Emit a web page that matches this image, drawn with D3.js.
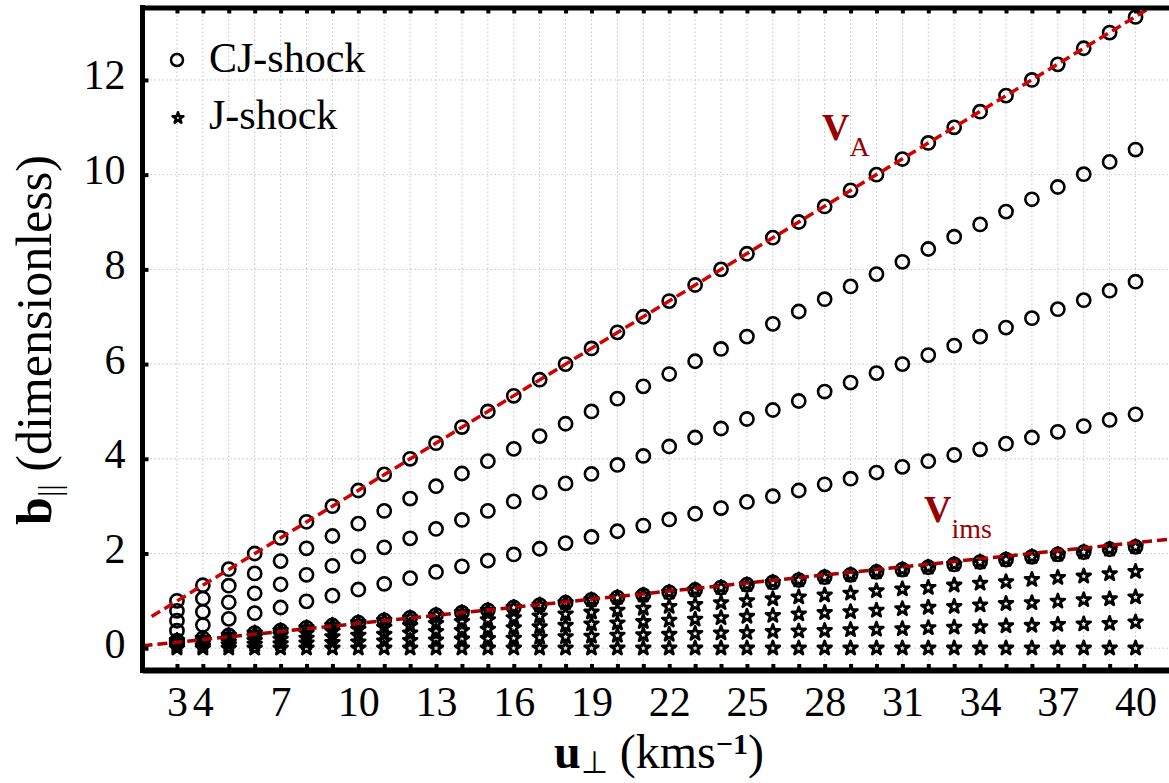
<!DOCTYPE html>
<html>
<head>
<meta charset="utf-8">
<script src="https://cdn.jsdelivr.net/npm/d3@7"></script>
<style>
  body { margin: 0; background: #fff; }
  svg { display: block; font-family: "Palatino Linotype", "Book Antiqua", Palatino, "Liberation Serif", serif; }
</style>
</head>
<body>
<div id="chart"></div>
<script>
// perpendicular velocity, km/s
const uPerp = [3, 4, 5, 6, 7, 8, 9, 10, 11, 12, 13, 14, 15, 16, 17, 18, 19, 20, 21, 22,
  23, 24, 25, 26, 27, 28, 29, 30, 31, 32, 33, 34, 35, 36, 37, 38, 39, 40];
const xTickLabels = [3, 4, 7, 10, 13, 16, 19, 22, 25, 28, 31, 34, 37, 40];
const yTicks = [0, 2, 4, 6, 8, 10, 12];

// CJ-shock rows (top row sits on V_A, bottom row on V_ims)
const cjRow1 = [1.00, 1.33, 1.67, 2.00, 2.33, 2.67, 3.00, 3.33, 3.67, 4.00, 4.33, 4.67, 5.00, 5.33, 5.67, 6.00, 6.33, 6.67, 7.00,
  7.33, 7.67, 8.00, 8.33, 8.67, 9.00, 9.33, 9.67, 10.00, 10.33, 10.67, 11.00, 11.33, 11.67, 12.00, 12.33, 12.67, 13.00, 13.33];
const cjRow2 = [0.79, 1.05, 1.32, 1.58, 1.84, 2.11, 2.37, 2.63, 2.90, 3.16, 3.42, 3.69, 3.95, 4.21, 4.48, 4.74, 5.00, 5.27, 5.53,
  5.79, 6.06, 6.32, 6.58, 6.85, 7.11, 7.37, 7.64, 7.90, 8.16, 8.43, 8.69, 8.95, 9.22, 9.48, 9.74, 10.01, 10.27, 10.53];
const cjRow3 = [0.58, 0.77, 0.97, 1.16, 1.35, 1.55, 1.74, 1.94, 2.13, 2.32, 2.52, 2.71, 2.90, 3.10, 3.29, 3.48, 3.68, 3.87, 4.06,
  4.26, 4.45, 4.64, 4.84, 5.03, 5.22, 5.42, 5.61, 5.81, 6.00, 6.19, 6.39, 6.58, 6.77, 6.97, 7.16, 7.35, 7.55, 7.74];
const cjRow4 = [0.37, 0.49, 0.62, 0.74, 0.86, 0.99, 1.11, 1.24, 1.36, 1.48, 1.61, 1.73, 1.85, 1.98, 2.10, 2.22, 2.35, 2.47, 2.59,
  2.72, 2.84, 2.96, 3.09, 3.21, 3.33, 3.46, 3.58, 3.71, 3.83, 3.95, 4.08, 4.20, 4.32, 4.45, 4.57, 4.69, 4.82, 4.94];
const cjRow5 = [0.16, 0.21, 0.27, 0.32, 0.37, 0.43, 0.48, 0.54, 0.59, 0.64, 0.70, 0.75, 0.80, 0.86, 0.91, 0.96, 1.02, 1.07, 1.12,
  1.18, 1.23, 1.28, 1.34, 1.39, 1.44, 1.50, 1.55, 1.61, 1.66, 1.71, 1.77, 1.82, 1.87, 1.93, 1.98, 2.03, 2.09, 2.14];

// J-shock rows
const jRow1 = [0.16, 0.21, 0.27, 0.32, 0.37, 0.43, 0.48, 0.54, 0.59, 0.64, 0.70, 0.75, 0.80, 0.86, 0.91, 0.96, 1.02, 1.07, 1.12,
  1.18, 1.23, 1.28, 1.34, 1.39, 1.44, 1.50, 1.55, 1.61, 1.66, 1.71, 1.77, 1.82, 1.87, 1.93, 1.98, 2.03, 2.09, 2.14];
const jRow2 = [0.12, 0.16, 0.20, 0.24, 0.28, 0.32, 0.36, 0.40, 0.44, 0.48, 0.52, 0.56, 0.60, 0.64, 0.68, 0.72, 0.76, 0.80, 0.84,
  0.88, 0.92, 0.96, 1.00, 1.04, 1.08, 1.12, 1.16, 1.21, 1.25, 1.28, 1.33, 1.37, 1.40, 1.45, 1.49, 1.52, 1.57, 1.62];
const jRow3 = [0.08, 0.11, 0.13, 0.16, 0.19, 0.21, 0.24, 0.27, 0.29, 0.32, 0.35, 0.37, 0.40, 0.43, 0.45, 0.48, 0.51, 0.53, 0.56,
  0.59, 0.61, 0.64, 0.67, 0.69, 0.72, 0.75, 0.77, 0.80, 0.83, 0.86, 0.88, 0.91, 0.94, 0.96, 0.99, 1.02, 1.04, 1.08];
const jRow4 = [0.04, 0.05, 0.07, 0.08, 0.09, 0.11, 0.12, 0.13, 0.15, 0.16, 0.17, 0.19, 0.20, 0.21, 0.23, 0.24, 0.25, 0.27, 0.28,
  0.29, 0.31, 0.32, 0.33, 0.35, 0.36, 0.37, 0.39, 0.40, 0.41, 0.43, 0.44, 0.45, 0.47, 0.48, 0.50, 0.51, 0.52, 0.55];
const jRow5 = [0.00, 0.00, 0.00, 0.00, 0.00, 0.00, 0.00, 0.00, 0.00, 0.00, 0.00, 0.00, 0.00, 0.00, 0.00, 0.00, 0.00, 0.00, 0.00,
  0.00, 0.00, 0.00, 0.00, 0.00, 0.00, 0.00, 0.00, 0.00, 0.00, 0.00, 0.00, 0.00, 0.00, 0.00, 0.00, 0.00, 0.00, 0.00];

// reference speeds, [u, b] end points
const vALine = [[2.02, 0.67], [41.0, 13.67]];
const vImsLine = [[1.67, 0.05], [41.6, 2.32]];

const cjRows = [cjRow1, cjRow2, cjRow3, cjRow4, cjRow5];
const jRows = [jRow1, jRow2, jRow3, jRow4, jRow5];

const width = 1169, height = 783;
const plot = { left: 142.5, right: 1177, top: 7.5, bottom: 670 };

const x = d3.scaleLinear().domain([1.67, 41.6]).range([plot.left, plot.right]);
const y = d3.scaleLinear().domain([-0.46, 13.53]).range([plot.bottom, plot.top]);

const svg = d3.select('#chart').append('svg')
  .attr('width', width)
  .attr('height', height);

svg.append('clipPath').attr('id', 'clip')
  .append('rect')
  .attr('x', plot.left).attr('y', plot.top)
  .attr('width', plot.right - plot.left).attr('height', plot.bottom - plot.top);

// grid
const grid = svg.append('g').attr('class', 'grid')
  .attr('stroke', '#c4c4c4').attr('stroke-width', 1).attr('stroke-dasharray', '1.5,2.5');
grid.selectAll('line.v').data(uPerp).enter().append('line')
  .attr('class', 'v')
  .attr('x1', d => x(d)).attr('x2', d => x(d))
  .attr('y1', plot.top).attr('y2', plot.bottom);
grid.selectAll('line.h').data(yTicks).enter().append('line')
  .attr('class', 'h')
  .attr('x1', plot.left).attr('x2', plot.right)
  .attr('y1', d => y(d)).attr('y2', d => y(d));

// markers
const star = d3.symbol().type(d3.symbolStar).size(58);
const marks = svg.append('g').attr('clip-path', 'url(#clip)');

cjRows.forEach(row => {
  marks.append('g').selectAll('circle')
    .data(row.map((b, i) => [uPerp[i], b]))
    .enter().append('circle')
    .attr('cx', d => x(d[0]))
    .attr('cy', d => y(d[1]))
    .attr('r', 6.6)
    .attr('fill', 'none')
    .attr('stroke', '#000')
    .attr('stroke-width', 2.6);
});

jRows.forEach(row => {
  marks.append('g').selectAll('path')
    .data(row.map((b, i) => [uPerp[i], b]))
    .enter().append('path')
    .attr('d', star)
    .attr('transform', d => 'translate(' + x(d[0]) + ',' + y(d[1]) + ')')
    .attr('fill', 'none')
    .attr('stroke', '#000')
    .attr('stroke-width', 2.8)
    .attr('stroke-linejoin', 'round');
});

// dashed reference lines
const line = d3.line().x(d => x(d[0])).y(d => y(d[1]));
marks.append('path').datum(vALine)
  .attr('d', line)
  .attr('fill', 'none')
  .attr('stroke', '#d40000')
  .attr('stroke-width', 3.5)
  .attr('stroke-dasharray', '10,5');
marks.append('path').datum(vImsLine)
  .attr('d', line)
  .attr('fill', 'none')
  .attr('stroke', '#a80000')
  .attr('stroke-width', 3.5)
  .attr('stroke-dasharray', '10,5');

// axes
const xAxis = d3.axisBottom(x)
  .tickValues(uPerp)
  .tickSizeInner(-6).tickSizeOuter(0)
  .tickFormat(d => xTickLabels.indexOf(d) >= 0 ? d : '');
const gx = svg.append('g').attr('transform', 'translate(0,' + plot.bottom + ')').call(xAxis);
gx.attr('font-family', null);
gx.select('.domain').attr('stroke-width', 6);
gx.selectAll('.tick line').attr('stroke-width', 4);
gx.selectAll('.tick text')
  .attr('y', 46).attr('dy', 0)
  .attr('font-size', 42).attr('fill', '#000');

const xTop = d3.axisTop(x).tickValues(uPerp).tickSizeInner(-6).tickSizeOuter(0).tickFormat('');
const gt = svg.append('g').attr('transform', 'translate(0,' + plot.top + ')').call(xTop);
gt.select('.domain').attr('stroke-width', 5);
gt.selectAll('.tick line').attr('stroke-width', 4);

const yAxis = d3.axisLeft(y).tickValues(yTicks).tickSizeInner(-6).tickSizeOuter(0);
const gy = svg.append('g').attr('transform', 'translate(' + plot.left + ',0)').call(yAxis);
gy.attr('font-family', null);
gy.select('.domain').attr('stroke-width', 5).attr('d', 'M0,' + (plot.top - 2.5) + 'V' + (plot.bottom + 3));
gy.selectAll('.tick line').attr('stroke-width', 4);
gy.selectAll('.tick text')
  .attr('x', -17).attr('dy', 0).attr('y', 9)
  .attr('font-size', 42).attr('fill', '#000');

// axis titles
svg.append('text')
  .attr('x', 659).attr('y', 768)
  .attr('text-anchor', 'middle')
  .attr('font-size', 48)
  .html('<tspan font-weight="bold">u</tspan><tspan font-size="31" dy="5">\u22A5</tspan>' +
    '<tspan dy="-5"> (kms</tspan><tspan font-size="30" dy="-14" font-weight="bold">\u22121</tspan><tspan dy="14">)</tspan>');

svg.append('text')
  .attr('transform', 'translate(51,340) rotate(-90)')
  .attr('text-anchor', 'middle')
  .attr('font-size', 50)
  .html('<tspan font-weight="bold">b</tspan><tspan font-size="32" dy="9">||</tspan>' +
    '<tspan dy="-9"> (dimensionless)</tspan>');

// curve labels
svg.append('text')
  .attr('x', 822).attr('y', 140)
  .attr('fill', '#990000')
  .attr('font-size', 38)
  .html('<tspan font-weight="bold">V</tspan><tspan font-size="28" dy="16">A</tspan>');
svg.append('text')
  .attr('x', 924).attr('y', 522)
  .attr('fill', '#990000')
  .attr('font-size', 38)
  .html('<tspan font-weight="bold">V</tspan><tspan font-size="28" dy="16">ims</tspan>');

// legend
const legend = svg.append('g');
legend.append('circle')
  .attr('cx', 177).attr('cy', 60).attr('r', 6)
  .attr('fill', 'none').attr('stroke', '#000').attr('stroke-width', 2.5);
legend.append('path')
  .attr('d', d3.symbol().type(d3.symbolStar).size(36))
  .attr('transform', 'translate(178,118)')
  .attr('fill', 'none').attr('stroke', '#000').attr('stroke-width', 2.6).attr('stroke-linejoin', 'round');
legend.append('text').attr('x', 209).attr('y', 72).attr('font-size', 42).text('CJ-shock');
legend.append('text').attr('x', 209).attr('y', 129).attr('font-size', 42).text('J-shock');
</script>
</body>
</html>
